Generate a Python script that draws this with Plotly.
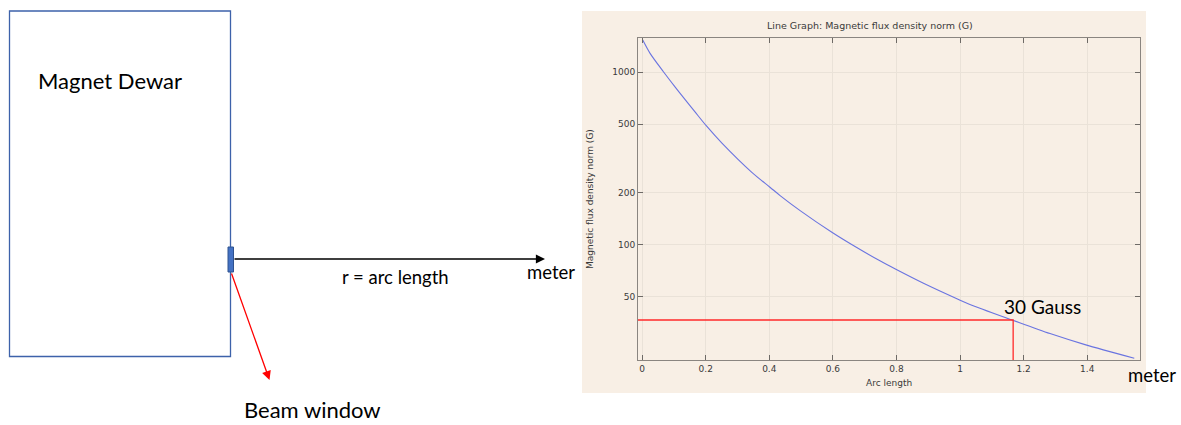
import plotly.graph_objects as go
import math

# ---------------- data ----------------
arc_length = [0.002, 0.025, 0.067, 0.104, 0.167, 0.203, 0.251, 0.345, 0.403, 0.434,
              0.497, 0.598, 0.675, 0.748, 0.798, 0.885, 0.997, 1.031, 1.164, 1.283,
              1.393, 1.548]
flux_G = [1531, 1282, 1004, 818, 586, 486, 388, 263, 215, 193,
          158, 118, 96.6, 80.9, 72.3, 60.0, 48.2, 45.3, 36.8, 30.7,
          26.5, 22.1]
threshold_x = 1.167
threshold_G = 36.8

x_tickvals = [0, 0.2, 0.4, 0.6, 0.8, 1.0, 1.2, 1.4]
x_ticktext = ["0", "0.2", "0.4", "0.6", "0.8", "1", "1.2", "1.4"]
y_tickvals = [50, 100, 200, 500, 1000]
y_ticktext = ["50", "100", "200", "500", "1000"]

x_range = [-0.013, 1.566]
y_range_G = [21.6, 1574]

# ---------------- layout helpers (figure pixels -> paper) ----------------
W, H = 1181, 425
def px(x):
    return x / W
def py(y):
    return 1 - y / H

BEIGE = "#F8EFE5"
CHART_FONT = "DejaVu Sans"
DIAG_FONT = "Lato"

fig = go.Figure()

fig.add_trace(go.Scatter(
    x=arc_length, y=flux_G, mode="lines",
    line=dict(color="#6A74E0", width=1.1, shape="spline", smoothing=0.8),
    showlegend=False, hoverinfo="x+y"))

fig.add_trace(go.Scatter(
    x=[x_range[0], threshold_x, threshold_x],
    y=[threshold_G, threshold_G, y_range_G[0]],
    mode="lines", line=dict(color="#FF2A2A", width=1.3),
    showlegend=False, cliponaxis=True))

axis_common = dict(
    showline=True, linecolor="#8A8580", linewidth=1, mirror="ticks",
    ticks="inside", ticklen=5, tickcolor="#6E6A66", tickwidth=1,
    showgrid=True, gridcolor="#EAE2D8", gridwidth=1, zeroline=False,
    tickfont=dict(family=CHART_FONT, size=9, color="#3A3A3A"),
)

fig.update_layout(
    width=W, height=H,
    margin=dict(l=0, r=0, t=0, b=0),
    paper_bgcolor="white",
    plot_bgcolor=BEIGE,
    xaxis=dict(domain=[px(638), px(1140)], range=x_range,
               tickvals=x_tickvals, ticktext=x_ticktext, **axis_common),
    yaxis=dict(domain=[py(360), py(38)], type="log",
               range=[math.log10(y_range_G[0]), math.log10(y_range_G[1])],
               tickvals=y_tickvals, ticktext=y_ticktext, **axis_common),
)

shapes = [
    # beige chart panel
    dict(type="rect", xref="paper", yref="paper", layer="below",
         x0=px(582), x1=px(1146), y0=py(393), y1=py(11),
         fillcolor=BEIGE, line=dict(width=0)),
    # magnet dewar outline
    dict(type="rect", xref="paper", yref="paper",
         x0=px(9.5), x1=px(230.5), y0=py(356.5), y1=py(11),
         line=dict(color="#3D62AA", width=1.3), fillcolor="rgba(0,0,0,0)"),
    # beam window
    dict(type="rect", xref="paper", yref="paper",
         x0=px(228), x1=px(233.5), y0=py(272), y1=py(247),
         line=dict(color="#2F528F", width=1), fillcolor="#4472C4"),
]
fig.update_layout(shapes=shapes)

def label(text, x, y, family, size, xanchor="center", angle=0, color="black"):
    return dict(text=text, x=px(x), y=py(y), xref="paper", yref="paper",
                xanchor=xanchor, yanchor="middle", textangle=angle, borderpad=0,
                showarrow=False, font=dict(family=family, size=size, color=color))

ann = [
    label("Line Graph: Magnetic flux density norm (G)", 869.5, 26, CHART_FONT, 9.5, color="#3A3A3A"),
    label("Magnetic flux density norm (G)", 590, 199, CHART_FONT, 9, angle=-90, color="#3A3A3A"),
    label("Arc length", 889, 383, CHART_FONT, 9, color="#3A3A3A"),
    label("Magnet Dewar", 37, 80, DIAG_FONT, 22, xanchor="left"),
    label("r = arc length", 395, 277, DIAG_FONT, 18.5),
    label("meter", 526, 272, DIAG_FONT, 18.5, xanchor="left"),
    label("meter", 1127, 375, DIAG_FONT, 18.5, xanchor="left"),
    label("Beam window", 243, 409.5, DIAG_FONT, 22, xanchor="left"),
    label("30 Gauss", 1003, 306, DIAG_FONT, 19, xanchor="left"),
]
# arrows
ann.append(dict(text="", x=px(545), y=py(259), xref="paper", yref="paper",
                showarrow=True, ax=233 - 545, ay=0, axref="pixel", ayref="pixel",
                arrowhead=2, arrowsize=1.4, arrowwidth=1.3, arrowcolor="black", standoff=0))
ann.append(dict(text="", x=px(269.5), y=py(380), xref="paper", yref="paper",
                showarrow=True, ax=231 - 269.5, ay=272 - 380, axref="pixel", ayref="pixel",
                arrowhead=2, arrowsize=1.4, arrowwidth=1.3, arrowcolor="#FF0000", standoff=0))
fig.update_layout(annotations=ann)

fig.write_html("out.html",
               config={"displayModeBar": False},
               post_script="document.body.style.margin='0px';document.body.style.overflow='hidden';")
